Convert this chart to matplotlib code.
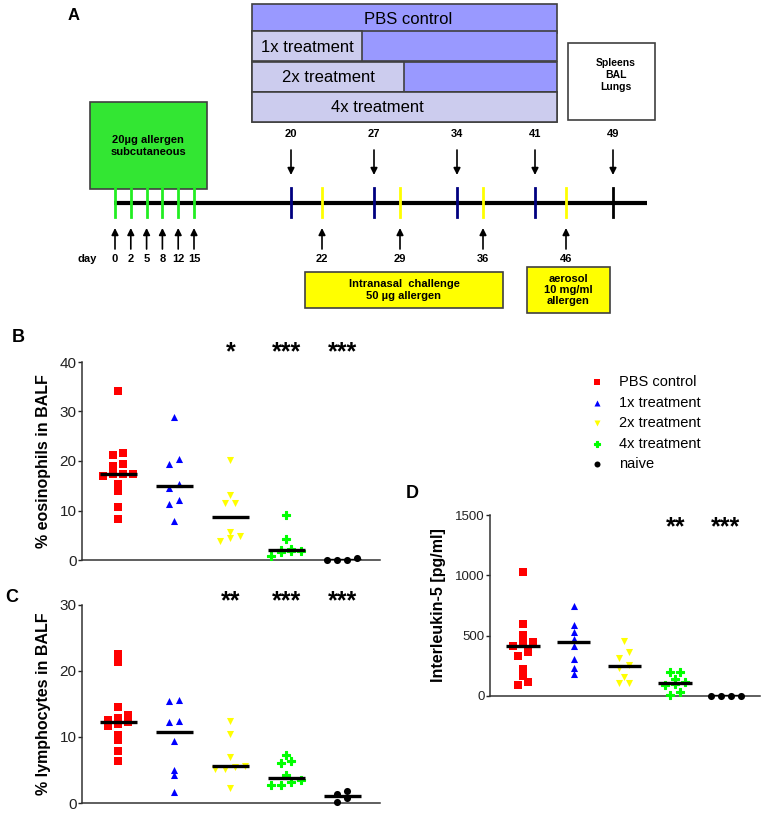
import numpy as np
import matplotlib
matplotlib.use('Agg')
import matplotlib.pyplot as plt
from matplotlib.patches import Rectangle

plt.rcParams['font.family'] = ['Liberation Sans', 'DejaVu Sans']

# Groups and styles
groups = ['PBS control', '1x treatment', '2x treatment', '4x treatment', 'naive']
colors = ['#ff0000', '#0000ff', '#ffff00', '#00ff00', '#000000']
markers = ['s', '^', 'v', 'P', 'o']

# Panel B: % eosinophils in BALF
eos_pbs = [34.2, 21.6, 21.2, 19.3, 18.9, 17.4, 17.4, 17.0, 17.4, 15.4, 14.0, 10.7, 8.2]
eos_1x = [28.9, 20.4, 19.4, 15.4, 14.5, 12.1, 11.3, 7.8]
eos_2x = [20.2, 13.1, 11.6, 11.6, 5.6, 4.9, 4.5, 3.9]
eos_4x = [9.0, 4.2, 2.3, 2.0, 1.9, 1.9, 1.7, 0.9]
eos_naive = [0.07, 0.5, 0.1, 0.1]
eos_stars = ['', '', '*', '***', '***']

# Panel C: % lymphocytes in BALF
lym_pbs = [22.6, 21.4, 14.5, 13.3, 12.9, 12.6, 12.2, 11.95, 11.7, 10.3, 9.5, 7.9, 6.3]
lym_1x = [15.6, 15.4, 12.5, 12.25, 9.4, 5.0, 4.2, 1.7]
lym_2x = [12.5, 10.4, 6.9, 5.6, 5.5, 5.1, 5.1, 2.2]
lym_4x = [7.3, 6.35, 6.0, 4.2, 3.5, 3.2, 2.8, 2.8]
lym_naive = [1.8, 1.3, 0.8, 0.15]
lym_stars = ['', '', '**', '***', '***']

# Panel D: Interleukin-5 [pg/ml]
il5_pbs = [1028, 597, 508, 461, 447, 444, 417, 361, 333, 225, 167, 119, 92]
il5_1x = [747, 586, 533, 475, 414, 306, 228, 183]
il5_2x = [453, 361, 319, 261, 228, 158, 108, 106]
il5_4x = [203, 197, 139, 114, 103, 92, 36, 8]
il5_naive = [0, 0, 0, 0]
il5_stars = ['', '', '', '**', '***']

# Panel A: protocol schedule (days)
sens_days = [0, 2, 5, 8, 12, 15]
treat_days = [20, 27, 34, 41]
challenge_days = [22, 29, 36]
aerosol_days = [46]
harvest_days = [49]

W, H = 765, 813
fig = plt.figure(figsize=(W / 100, H / 100), dpi=100)


def px_axes(x0, y0, x1, y1):
    return fig.add_axes([x0 / W, 1 - y1 / H, (x1 - x0) / W, (y1 - y0) / H])


# ---------------- Panel A (schematic drawn in pixel space) ----------------
ax_a = fig.add_axes([0, 0, 1, 1], zorder=0)
ax_a.set_xlim(0, W)
ax_a.set_ylim(H, 0)
ax_a.axis('off')

# schematic (not to scale) day -> x mapping: sensitisation days evenly spaced
anchor_days = sens_days + [20, 22, 27, 29, 34, 36, 41, 46, 49]
anchor_x = list(np.linspace(115, 194, len(sens_days))) + [291, 322, 374, 400, 457, 483, 535, 566, 613]


def day_x(d):
    return np.interp(d, anchor_days, anchor_x)


purple = '#9999ff'
lilac = '#ccccee'
edge = '#404040'
rows = [('PBS control', 252, 4, 29),
        ('1x treatment', 362, 31, 30),
        ('2x treatment', 404, 62, 30),
        ('4x treatment', 557, 92, 30)]
for label, split, y0, h in rows:
    ax_a.add_patch(Rectangle((252, y0), 557 - 252, h, facecolor=purple, edgecolor=edge, lw=1.2))
    if split > 252:
        ax_a.add_patch(Rectangle((252, y0), split - 252, h, facecolor=lilac, edgecolor=edge, lw=1.2))
        tx = (252 + split) / 2 if split < 557 else 377
    else:
        tx = 408
    ax_a.text(tx, y0 + h / 2 + 1, label, ha='center', va='center', fontsize=12)

ax_a.add_patch(Rectangle((568, 43), 87, 77, facecolor='white', edgecolor=edge, lw=1.2))
ax_a.text(616, 75, 'Spleens\nBAL\nLungs', ha='center', va='center', fontsize=7.5,
          fontweight='bold', linespacing=1.25)

ax_a.add_patch(Rectangle((90, 102), 117, 87, facecolor='#33e633', edgecolor=edge, lw=1.2))
ax_a.text(148, 146, '20µg allergen\nsubcutaneous', ha='center', va='center', fontsize=8,
          fontweight='bold')

# timeline
ax_a.plot([114, 647], [203, 203], color='black', lw=3, solid_capstyle='butt')
tick_sets = [(sens_days, '#22ee22'), (treat_days, '#000080'), (challenge_days, '#ffff00'),
             (aerosol_days, '#ffff00'), (harvest_days, 'black')]
for days, col in tick_sets:
    for d in days:
        ax_a.plot([day_x(d), day_x(d)], [188, 217], color=col, lw=2)

arrow = dict(arrowstyle='-|>', color='black', lw=1.2, mutation_scale=10, shrinkA=0, shrinkB=0)
for d in treat_days + harvest_days:
    ax_a.annotate('', xy=(day_x(d), 175), xytext=(day_x(d), 150), arrowprops=arrow)
    ax_a.text(day_x(d), 134, str(d), ha='center', va='center', fontsize=8, fontweight='bold')
for d in sens_days + challenge_days + aerosol_days:
    ax_a.annotate('', xy=(day_x(d), 228), xytext=(day_x(d), 249), arrowprops=arrow)
    ax_a.text(day_x(d), 259, str(d), ha='center', va='center', fontsize=8, fontweight='bold')
ax_a.text(87, 259, 'day', ha='center', va='center', fontsize=8, fontweight='bold')

ax_a.add_patch(Rectangle((305, 272), 198, 36, facecolor='#ffff00', edgecolor=edge, lw=1.2))
ax_a.text(404, 290, 'Intranasal  challenge\n50 µg allergen', ha='center', va='center',
          fontsize=8, fontweight='bold')
ax_a.add_patch(Rectangle((527, 267), 83, 46, facecolor='#ffff00', edgecolor=edge, lw=1.2))
ax_a.text(568, 290, 'aerosol\n10 mg/ml\nallergen', ha='center', va='center',
          fontsize=8, fontweight='bold', linespacing=1.15)

fig.text(74 / W, 1 - 15 / H, 'A', ha='center', va='center', fontsize=12, fontweight='bold')
fig.text(18 / W, 1 - 338 / H, 'B', ha='center', va='center', fontsize=13, fontweight='bold')
fig.text(12 / W, 1 - 597 / H, 'C', ha='center', va='center', fontsize=13, fontweight='bold')
fig.text(412 / W, 1 - 493 / H, 'D', ha='center', va='center', fontsize=13, fontweight='bold')


# ---------------- Scatter panels ----------------
def swarm(values, px_per_unit, px_per_group, step_px=10.0, row_px=5.2):
    values = np.asarray(values, dtype=float)
    order = np.argsort(values, kind='stable')
    offsets = np.zeros(len(values))
    rows_ = []
    cur = [order[0]]
    for i in order[1:]:
        if (values[i] - values[cur[0]]) * px_per_unit < row_px:
            cur.append(i)
        else:
            rows_.append(cur)
            cur = [i]
    rows_.append(cur)
    for r in rows_:
        n = len(r)
        for k, i in enumerate(r):
            offsets[i] = (k - (n - 1) / 2) * step_px / px_per_group
    return offsets


def dot_panel(box, data, ymax, yticks, ylabel, stars, star_y, labelpad, ticksize):
    x0, y0, x1, y1 = box
    ax = px_axes(x0, y0, x1, y1)
    xlim = (0.35, 5.67)
    ax.set_xlim(*xlim)
    ax.set_ylim(0, ymax)
    ppu = (y1 - y0) / ymax
    ppg = (x1 - x0) / (xlim[1] - xlim[0])
    handles = []
    for i, vals in enumerate(data):
        pos = i + 1
        off = swarm(vals, ppu, ppg)
        if markers[i] == 'P':
            h = ax.scatter(pos + off, vals, marker='P', s=30, color=colors[i],
                           edgecolors=colors[i], linewidths=0.8, zorder=3, clip_on=False,
                           label=groups[i])
        else:
            h = ax.scatter(pos + off, vals, marker=markers[i], s=26, color=colors[i],
                           linewidths=0, zorder=3, clip_on=False, label=groups[i])
        handles.append(h)
        ax.hlines(np.median(vals), pos - 0.33, pos + 0.33, color='black', lw=2.4, zorder=4)
        if stars[i]:
            ax.text(pos, star_y, stars[i], transform=ax.get_xaxis_transform(), ha='center',
                    va='center', fontsize=18, fontweight='bold')
    for s in ['top', 'right']:
        ax.spines[s].set_visible(False)
    for s in ['left', 'bottom']:
        ax.spines[s].set_color('#333333')
        ax.spines[s].set_linewidth(1.1)
    ax.set_yticks(yticks)
    ax.tick_params(axis='y', length=3, width=1, pad=1, labelsize=ticksize, colors='#222222')
    ax.tick_params(axis='x', length=0, labelbottom=False)
    ax.set_ylabel(ylabel, fontsize=11.5, fontweight='bold', labelpad=labelpad)
    return ax, handles


ax_b, handles = dot_panel((82, 362, 380, 560), [eos_pbs, eos_1x, eos_2x, eos_4x, eos_naive],
                          40, [0, 10, 20, 30, 40], '% eosinophils in BALF', eos_stars, 1.05, 6, 11)
ax_c, _ = dot_panel((82, 605, 380, 803), [lym_pbs, lym_1x, lym_2x, lym_4x, lym_naive],
                    30, [0, 10, 20, 30], '% lymphocytes in BALF', lym_stars, 1.02, 6, 11)
ax_d, _ = dot_panel((490, 515, 760, 696), [il5_pbs, il5_1x, il5_2x, il5_4x, il5_naive],
                    1500, [0, 500, 1000, 1500], 'Interleukin-5 [pg/ml]', il5_stars, 0.93, 6, 9.5)

fig.legend(handles, groups, loc='upper left', bbox_to_anchor=(590 / W, 1 - 375 / H),
           frameon=False, fontsize=10.5, markerscale=0.85, handletextpad=1.0,
           labelspacing=0.45, borderaxespad=0, borderpad=0, handlelength=1)

fig.savefig('out.png', dpi=100)
